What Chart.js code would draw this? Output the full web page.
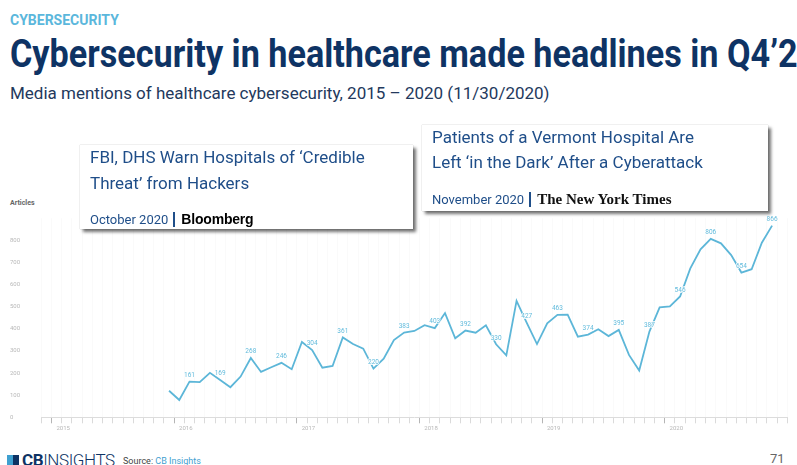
<!DOCTYPE html>
<html>
<head>
<meta charset="utf-8">
<script src="https://cdn.jsdelivr.net/npm/chart.js@4.4.1/dist/chart.umd.min.js"></script>
<style>
  body { margin: 0; width: 797px; height: 465px; overflow: hidden; background: #fff; position: relative; font-family: Roboto, sans-serif; }
  .abs { position: absolute; white-space: nowrap; }
  #kicker { left: 10px; top: 13px; font-size: 14px; line-height: 14px; font-weight: 700; color: #5bb7dc; }
  #title { left: 10px; top: 35px; font-size: 38px; line-height: 38px; font-weight: 700; color: #0e3364; transform-origin: 0 0; }
  #subtitle { left: 10px; top: 85px; font-size: 17px; line-height: 17px; color: #23395d; }
  .card { position: absolute; background: #fff; box-shadow: 3px 3px 3px rgba(0,0,0,.55), 0 0 1px rgba(0,0,0,.35); }
  .head { position: absolute; left: 10px; font-size: 17px; line-height: 17px; color: #1f4e89; white-space: nowrap; }
  .foot { position: absolute; left: 10px; font-size: 13px; line-height: 13px; color: #1f4e89; white-space: nowrap; }
  .bar { display: inline-block; width: 2px; height: 15px; background: #1f4e89; vertical-align: -3px; margin: 0 6px 0 5px; }
  .bbg { font-family: "Liberation Sans", Arial, sans-serif; font-weight: 700; font-size: 14px; color: #000; letter-spacing: -0.2px; }
  .nyt { font-family: "Liberation Serif", serif; font-weight: 700; font-size: 15px; color: #111; }
  #articles { left: 10px; top: 200px; font-size: 7px; line-height: 7px; font-weight: 700; color: #666; }
  #chart { position: absolute; left: 0; top: 200px; }
  #logo { left: 7px; top: 452px; font-size: 17px; line-height: 17px; color: #0e3364; letter-spacing: -0.4px; }
  #logo i { display: inline-block; width: 12px; height: 11px; background: linear-gradient(90deg, #3fa0d0 50%, #0e3364 50%); margin-right: 3px; vertical-align: 0; }
  #logo span { font-weight: 300; }
  #source { left: 123px; top: 457px; font-size: 9px; line-height: 9px; color: #444; }
  #source span { color: #3fa0d0; text-decoration: underline; }
  #page { left: 770px; top: 452px; font-size: 13px; line-height: 13px; color: #666; }
</style>
</head>
<body>
<div id="kicker" class="abs">CYBERSECURITY</div>
<div id="title" class="abs">Cybersecurity in healthcare made headlines in Q4’20</div>
<div id="subtitle" class="abs">Media mentions of healthcare cybersecurity, 2015 – 2020 (11/30/2020)</div>

<div id="articles" class="abs">Articles</div>
<canvas id="chart" width="797" height="245"></canvas>

<div class="card" style="left:80px; top:145px; width:333px; height:84px;">
  <div class="head" style="top:4px;">FBI, DHS Warn Hospitals of ‘Credible</div>
  <div class="head" style="top:30px;">Threat’ from Hackers</div>
  <div class="foot" style="top:67px;">October 2020<span class="bar"></span><span class="bbg">Bloomberg</span></div>
</div>
<div class="card" style="left:422px; top:125px; width:346px; height:86px;">
  <div class="head" style="top:4px;">Patients of a Vermont Hospital Are</div>
  <div class="head" style="top:29px;">Left ‘in the Dark’ After a Cyberattack</div>
  <div class="foot" style="top:67px;">November 2020<span class="bar"></span><span class="nyt">The New York Times</span></div>
</div>

<div id="logo" class="abs"><i></i><b>CB</b><span>INSIGHTS</span></div>
<div id="source" class="abs">Source: <span>CB Insights</span></div>
<div id="page" class="abs">71</div>

<script>
// title is set in a condensed face in the original; squeeze Roboto Bold to the same width
var title = document.getElementById('title');
var mctx = document.createElement('canvas').getContext('2d');
mctx.font = '700 38px Roboto';
var w = mctx.measureText('Cybersecurity in healthcare made headlines in Q4’').width;
title.style.transform = 'scaleX(' + (768 / w) + ')';

var years = ['2015', '2016', '2017', '2018', '2019', '2020'];
var monthNames = ['Jan', 'Feb', 'Mar', 'Apr', 'May', 'Jun', 'Jul', 'Aug', 'Sep', 'Oct', 'Nov', 'Dec'];
var firstMonth = 'Dec 2015';
var labeledMonths = ['Feb', 'May', 'Aug', 'Nov'];

// monthly articles, Dec 2015 - Nov 2020
var articles = [
  120,
  78, 161, 159, 201, 169, 136, 184, 268, 205, 226, 246, 217,
  340, 304, 224, 232, 361, 331, 310, 220, 265, 349, 383, 390,
  416, 403, 471, 357, 392, 382, 416, 330, 280, 526, 427, 331,
  425, 463, 464, 364, 374, 398, 367, 395, 282, 211, 387, 497,
  501, 546, 673, 759, 806, 786, 733, 654, 669, 789, 866
];

var categories = ['Dec 2014'];
years.forEach(function (y) {
  monthNames.forEach(function (m) { categories.push(m + ' ' + y); });
});

var start = categories.indexOf(firstMonth);
var series = categories.map(function (c, i) {
  var v = articles[i - start];
  return v === undefined ? null : v;
});

var pointLabels = {
  id: 'pointLabels',
  afterDatasetsDraw: function (chart) {
    var ctx = chart.ctx;
    var meta = chart.getDatasetMeta(0);
    ctx.save();
    ctx.font = '6.5px Roboto';
    ctx.textAlign = 'center';
    ctx.textBaseline = 'bottom';
    ctx.fillStyle = '#62bbdc';
    ctx.strokeStyle = '#fff';
    ctx.lineWidth = 1.5;
    meta.data.forEach(function (pt, i) {
      var v = series[i];
      if (v == null) return;
      if (labeledMonths.indexOf(categories[i].slice(0, 3)) < 0) return;
      ctx.strokeText(v, pt.x, pt.y - 3);
      ctx.fillText(v, pt.x, pt.y - 3);
    });
    ctx.restore();
  }
};

new Chart(document.getElementById('chart'), {
  type: 'line',
  data: {
    labels: categories,
    datasets: [{
      data: series,
      borderColor: '#5cb6d8',
      borderWidth: 1.8,
      pointRadius: 0,
      tension: 0,
      fill: false
    }]
  },
  options: {
    responsive: false,
    animation: false,
    devicePixelRatio: 1,
    layout: { padding: { left: 10, right: 9.6, top: 18.1, bottom: 0 } },
    plugins: { legend: { display: false }, tooltip: { enabled: false } },
    scales: {
      x: {
        offset: true,
        grid: {
          offset: true,
          color: 'rgba(0,0,0,0.018)',
          tickLength: 6,
          tickColor: function (c) {
            var cat = categories[c.index];
            return cat && cat.slice(0, 3) === 'Jan' ? '#b5b5b5' : '#dadada';
          }
        },
        border: { color: '#dcdcdc' },
        ticks: {
          autoSkip: false,
          maxRotation: 0,
          padding: 2,
          labelOffset: 6.5,
          color: '#b8b8b8',
          font: { family: 'Roboto', size: 6 },
          callback: function (v, i) {
            var cat = categories[i];
            return cat.slice(0, 3) === 'Jan' ? cat.slice(4) : '';
          }
        },
        afterFit: function (s) { s.height = 27.7; }
      },
      y: {
        min: 0,
        max: 900,
        grid: { display: false },
        border: { display: false },
        ticks: {
          stepSize: 100,
          crossAlign: 'far',
          color: '#b8b8b8',
          font: { family: 'Roboto', size: 6 },
          callback: function (v) { return v > 800 ? '' : v; }
        },
        afterFit: function (s) { s.width = 31.3; }
      }
    }
  },
  plugins: [pointLabels]
});
</script>
</body>
</html>
